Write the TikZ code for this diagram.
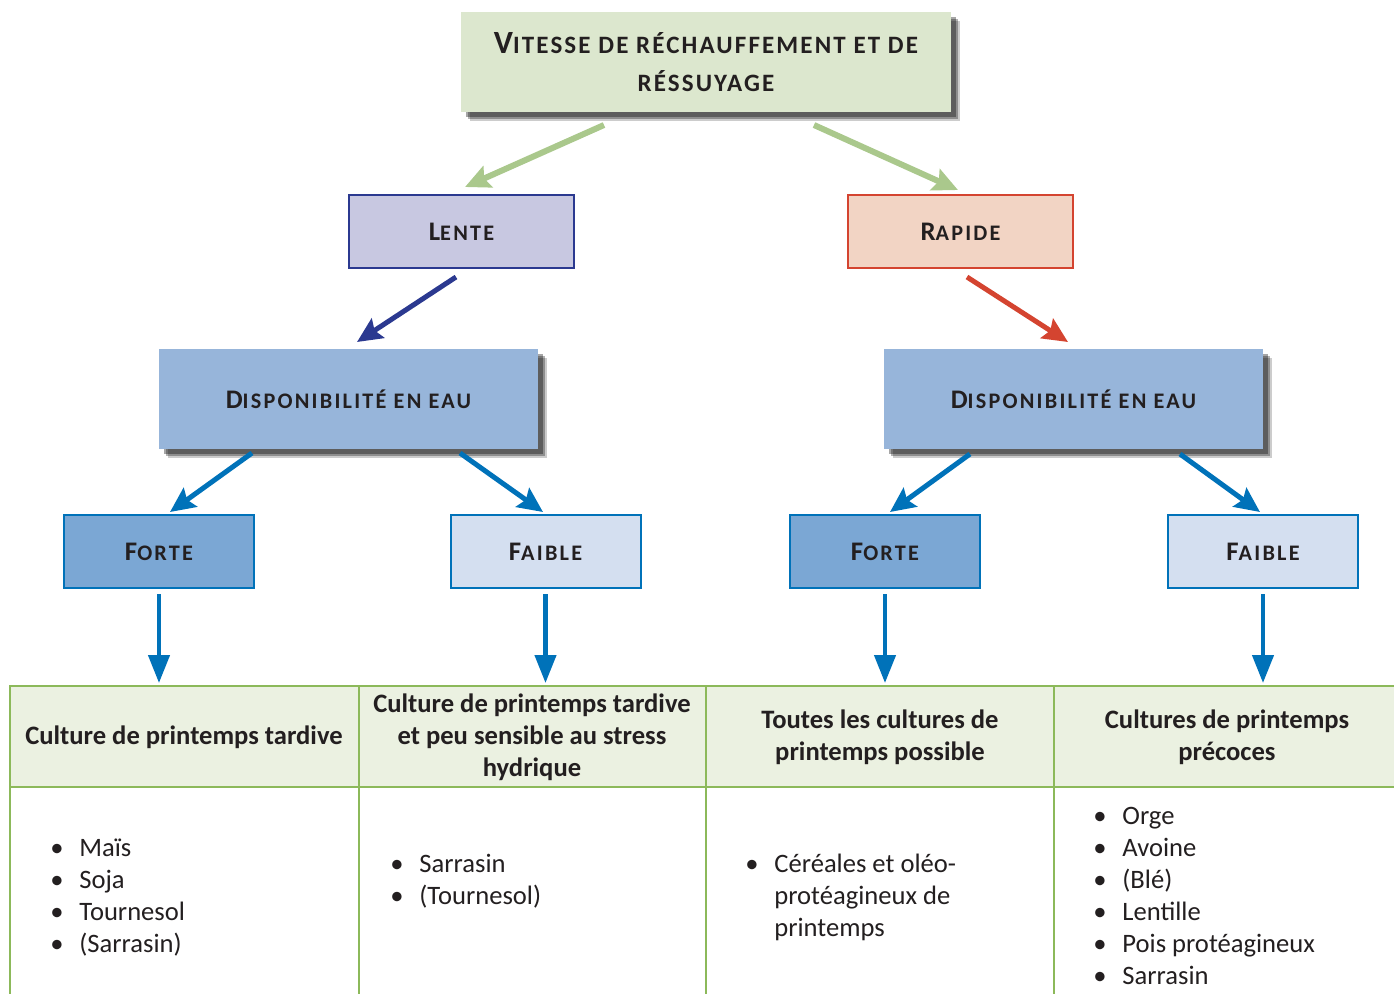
\documentclass[tikz,border=0pt]{standalone}
\usepackage{fontspec}
\setmainfont{Carlito}
\usetikzlibrary{arrows.meta,shadows}

\definecolor{txt}{RGB}{35,31,32}
\definecolor{topfill}{RGB}{220,231,206}
\definecolor{lentefill}{RGB}{200,200,225}
\definecolor{lentedraw}{RGB}{43,57,144}
\definecolor{rapfill}{RGB}{242,212,196}
\definecolor{rapdraw}{RGB}{212,68,48}
\definecolor{dispfill}{RGB}{151,181,218}
\definecolor{fortefill}{RGB}{123,167,212}
\definecolor{faiblefill}{RGB}{212,223,240}
\definecolor{bleu}{RGB}{0,114,185}
\definecolor{vert}{RGB}{170,200,140}
\definecolor{tabline}{RGB}{140,185,90}
\definecolor{hdfill}{RGB}{235,241,225}

\newcommand\bigc[1]{{\fontsize{13.4}{16}\selectfont #1}}
\newcommand\bigt[1]{{\fontsize{16.2}{19}\selectfont #1}}
\newcommand\itm{\makebox[14.5pt][l]{\textbullet}}

\tikzset{
  box/.style={minimum width=95pt, minimum height=36.5pt, inner sep=0pt, line width=1pt,
    font=\fontsize{11.1}{16}\selectfont\bfseries\addfontfeature{LetterSpace=10}, text=txt},
  shadowed/.style={
    drop shadow={shadow xshift=2.5pt, shadow yshift=-2.5pt, opacity=.35, fill=black},
    drop shadow={shadow xshift=3.5pt, shadow yshift=-3.5pt, opacity=.3, fill=black},
    drop shadow={shadow xshift=4.5pt, shadow yshift=-4.5pt, opacity=.2, fill=black}},
  head/.style={align=center, text=txt, font=\fontsize{13.3}{16}\selectfont\bfseries},
  lst/.style={anchor=base west, inner sep=0pt, text=txt, font=\fontsize{13.3}{16}\selectfont},
  arr/.style={line width=2.5pt, -{Stealth[length=12.5pt, width=11.5pt, inset=2pt]}},
  varr/.style={line width=2.2pt, bleu, -{Triangle[length=14pt, width=10.5pt]}}
}

\begin{document}
\begin{tikzpicture}[x=0.5pt,y=-0.5pt]
  \def\hy{737}
  \useasboundingbox (0,0) rectangle (1394,993);
  \clip (0,0) rectangle (1394,993);

  % tableau
  \fill[hdfill] (10,686) rectangle (1400,787);
  \draw[tabline, line width=1pt] (1400,686) -- (10,686) -- (10,1000);
  \draw[tabline, line width=1pt] (10,787) -- (1400,787);
  \foreach \x in {359,706,1054}
    \draw[tabline, line width=1pt] (\x,686) -- (\x,1000);
  \coordinate (tabtop) at (0,686);

  \node[head] (hd1) at (184,\hy) {Culture de printemps tardive};
  \node[head] (hd2) at (532,\hy) {Culture de printemps tardive\\et peu sensible au stress\\hydrique};
  \node[head] (hd3) at (880,\hy) {Toutes les cultures de\\printemps possible};
  \node[head] (hd4) at (1227,\hy) {Cultures de printemps\\précoces};

  \node[lst] (ls1) at (50,856) {\begin{tabular}[t]{@{}l@{}}
    \itm Maïs\\ \itm Soja\\ \itm Tournesol\\ \itm (Sarrasin)\end{tabular}};
  \node[lst] (ls2) at (390,872) {\begin{tabular}[t]{@{}l@{}}
    \itm Sarrasin\\ \itm (Tournesol)\end{tabular}};
  \node[lst] (ls3) at (745,872) {\begin{tabular}[t]{@{}l@{}}
    \itm Céréales et oléo-\\ \hspace*{14.5pt}protéagineux de\\ \hspace*{14.5pt}printemps\end{tabular}};
  \node[lst] (ls4) at (1093,824) {\begin{tabular}[t]{@{}l@{}}
    \itm Orge\\ \itm Avoine\\ \itm (Blé)\\ \itm Lentille\\ \itm Pois protéagineux\\ \itm Sarrasin\end{tabular}};

  % boites
  \node[box, shadowed, fill=topfill, minimum width=245pt, minimum height=50pt, align=center,
    font=\fontsize{12.5}{19}\selectfont\bfseries\addfontfeature{LetterSpace=8.5}] (top) at (706,62)
    {\bigt{V}ITESSE DE RÉCHAUFFEMENT ET DE\\RÉSSUYAGE};
  \node[box, fill=lentefill, draw=lentedraw, minimum width=112.5pt] (lente) at (461.5,231.5) {\bigc{L}ENTE};
  \node[box, fill=rapfill, draw=rapdraw, minimum width=112.5pt] (rapide) at (960.5,231.5) {\bigc{R}APIDE};
  \node[box, shadowed, fill=dispfill, minimum width=189.5pt, minimum height=50pt] (dispoL) at (348.5,399) {\bigc{D}ISPONIBILITÉ EN EAU};
  \node[box, shadowed, fill=dispfill, minimum width=189.5pt, minimum height=50pt] (dispoR) at (1073.5,399) {\bigc{D}ISPONIBILITÉ EN EAU};
  \node[box, fill=fortefill, draw=bleu] (forteL) at (159,551.5) {\bigc{F}ORTE};
  \node[box, fill=faiblefill, draw=bleu] (faibleL) at (545.5,551.5) {\bigc{F}AIBLE};
  \node[box, fill=fortefill, draw=bleu] (forteR) at (885,551.5) {\bigc{F}ORTE};
  \node[box, fill=faiblefill, draw=bleu] (faibleR) at (1263,551.5) {\bigc{F}AIBLE};

  % fleches
  \draw[arr, vert, line width=3pt] ([shift={(-102,12)}]top.south) -- ([shift={(3.5,-7)}]lente.north);
  \draw[arr, vert, line width=3pt] ([shift={(108,12)}]top.south) -- ([shift={(-2.5,-4)}]rapide.north);
  \draw[arr, lentedraw] ([shift={(-5.5,8)}]lente.south) -- ([shift={(8.5,-6)}]dispoL.north);
  \draw[arr, rapdraw] ([shift={(6.5,8)}]rapide.south) -- ([shift={(-5.5,-6)}]dispoR.north);
  \draw[arr, bleu] ([shift={(-96.5,3)}]dispoL.south) -- ([shift={(11,-2)}]forteL.north);
  \draw[arr, bleu] ([shift={(111.5,3)}]dispoL.south) -- ([shift={(-2.5,-2)}]faibleL.north);
  \draw[arr, bleu] ([shift={(-103.5,4)}]dispoR.south) -- ([shift={(5,-2)}]forteR.north);
  \draw[arr, bleu] ([shift={(106.5,4)}]dispoR.south) -- ([shift={(-3,-2)}]faibleR.north);
  \foreach \n in {forteL,faibleL,forteR,faibleR}
    \draw[varr] ([shift={(0,5)}]\n.south) -- ([shift={(0,-3)}]\n.south |- tabtop);
\end{tikzpicture}
\end{document}
